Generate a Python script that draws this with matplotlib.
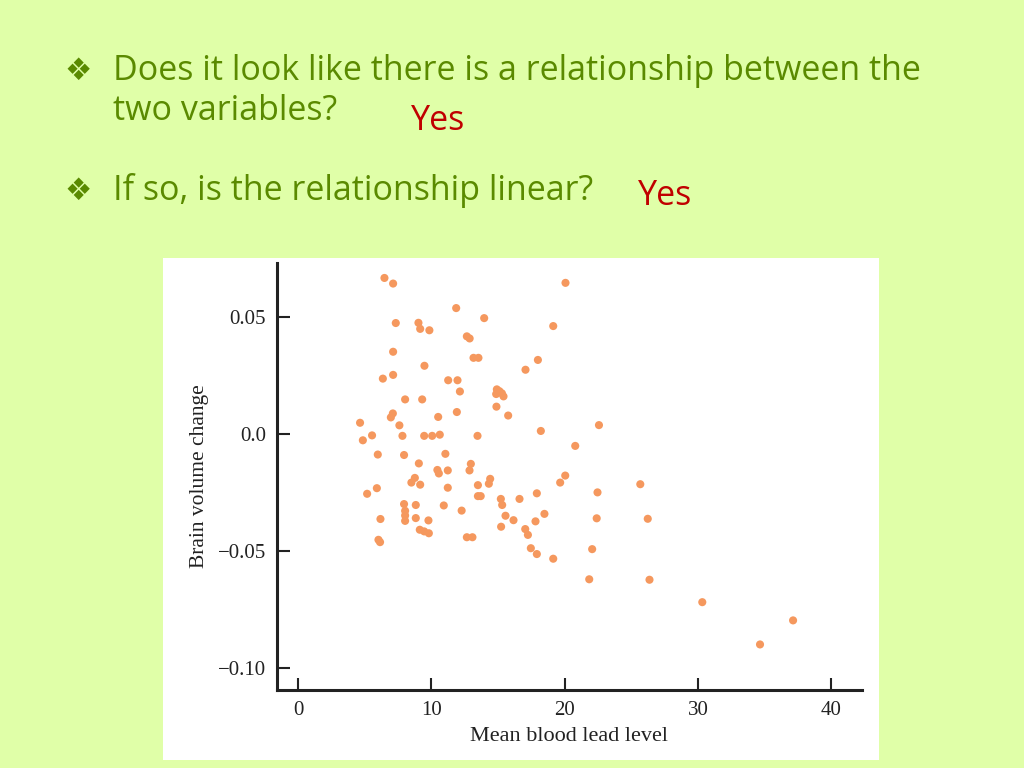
import matplotlib
matplotlib.use("Agg")
import matplotlib.pyplot as plt
from matplotlib.patches import Rectangle

# mean blood lead level vs brain volume change
lead = [6.48, 7.13, 11.86, 7.33, 9.03, 9.16, 9.85, 12.66, 12.87, 7.13,
        13.16, 13.53, 9.48, 6.36, 7.13, 11.26, 11.96, 12.14, 8.03, 9.31,
        11.91, 7.11, 6.96, 10.51, 7.60, 4.65, 4.86, 5.55, 7.83, 9.46,
        10.06, 10.63, 5.98, 7.95, 11.05, 9.06, 10.45, 10.56, 11.23, 8.76,
        8.50, 9.16, 5.91, 5.18, 11.23, 7.95, 8.83, 10.93, 12.27, 8.03,
        8.03, 8.03, 8.83, 9.78, 6.18, 9.13, 9.46, 9.81, 12.66, 13.08,
        6.03, 6.15, 20.06, 13.96, 19.14, 17.99, 17.06, 14.91, 15.11, 15.29,
        14.86, 15.41, 14.88, 15.76, 22.57, 18.21, 13.46, 20.79, 12.96, 12.86,
        14.41, 14.31, 13.49, 20.04, 19.66, 25.67, 13.49, 13.70, 17.91, 22.46,
        15.21, 15.31, 16.61, 15.56, 16.16, 17.81, 18.48, 22.40, 26.23, 15.23,
        17.04, 17.24, 17.46, 17.91, 22.06, 19.14, 21.84, 26.36, 30.32, 37.13,
        34.65]
brain = [0.0668, 0.0644, 0.0539, 0.0475, 0.0476, 0.0450, 0.0444, 0.0418, 0.0409, 0.0352,
         0.0326, 0.0326, 0.0292, 0.0237, 0.0253, 0.0230, 0.0230, 0.0182, 0.0148, 0.0148,
         0.0094, 0.0088, 0.0071, 0.0073, 0.0037, 0.0048, -0.0027, -0.0006, -0.0008, -0.0008,
         -0.0008, -0.0003, -0.0088, -0.0090, -0.0085, -0.0126, -0.0154, -0.0169, -0.0156, -0.0188,
         -0.0208, -0.0217, -0.0232, -0.0256, -0.0230, -0.0300, -0.0304, -0.0306, -0.0328, -0.0329,
         -0.0349, -0.0372, -0.0360, -0.0370, -0.0364, -0.0410, -0.0417, -0.0425, -0.0442, -0.0442,
         -0.0453, -0.0463, 0.0647, 0.0496, 0.0462, 0.0317, 0.0275, 0.0191, 0.0183, 0.0174,
         0.0171, 0.0161, 0.0117, 0.0079, 0.0038, 0.0013, -0.0008, -0.0051, -0.0128, -0.0156,
         -0.0192, -0.0213, -0.0219, -0.0178, -0.0208, -0.0215, -0.0266, -0.0266, -0.0254, -0.0250,
         -0.0278, -0.0304, -0.0278, -0.0350, -0.0369, -0.0374, -0.0342, -0.0361, -0.0363, -0.0397,
         -0.0407, -0.0432, -0.0489, -0.0514, -0.0493, -0.0534, -0.0622, -0.0624, -0.0720, -0.0798,
         -0.0901]

xticks = [0, 10, 20, 30, 40]
yticks = [-0.10, -0.05, 0.0, 0.05]
ytick_labels = ["\u22120.10", "\u22120.05", "0.0", "0.05"]

bg = "#e0ffa8"
green = "#5a8a00"
red = "#c00000"

fig = plt.figure(figsize=(10.24, 7.68), dpi=100)
fig.patch.set_facecolor(bg)

# white panel behind the plot
fig.patches.append(Rectangle((163 / 1024, 8 / 768), 716 / 1024, 502 / 768,
                             transform=fig.transFigure, facecolor="white",
                             edgecolor="none", zorder=-5))

fam = ["Open Sans", "DejaVu Sans"]
fs = 24.5
fig.text(64 / 1024, 1 - 71 / 768, "\u2756", color=green, fontsize=22, va="center", family="DejaVu Sans")
fig.text(113 / 1024, 1 - 71 / 768, "Does it look like there is a relationship between the",
         color=green, fontsize=fs, va="center", family=fam)
fig.text(113 / 1024, 1 - 111 / 768, "two variables?", color=green, fontsize=fs, va="center", family=fam)
fig.text(411 / 1024, 1 - 121 / 768, "Yes", color=red, fontsize=fs, va="center", family=fam)
fig.text(64 / 1024, 1 - 191 / 768, "\u2756", color=green, fontsize=22, va="center", family="DejaVu Sans")
fig.text(113 / 1024, 1 - 191 / 768, "If so, is the relationship linear?",
         color=green, fontsize=fs, va="center", family=fam)
fig.text(638 / 1024, 1 - 196 / 768, "Yes", color=red, fontsize=fs, va="center", family=fam)

ax = fig.add_axes([277 / 1024, 78 / 768, 585 / 1024, 427 / 768])
ax.set_zorder(2)
ax.patch.set_alpha(0)
ax.scatter(lead, brain, s=34, color="#f5985e", edgecolors="none", zorder=3)

ax.set_xlim(-1.58, 42.3)
ax.set_ylim(-0.1096, 0.0732)
ax.set_xticks(xticks)
ax.set_yticks(yticks)
ax.set_yticklabels(ytick_labels)

for s in ["top", "right"]:
    ax.spines[s].set_visible(False)
for s in ["left", "bottom"]:
    ax.spines[s].set_linewidth(2.2)
    ax.spines[s].set_color("#222222")

ax.tick_params(direction="in", length=9, width=1.5, color="#222222",
               labelsize=15, labelcolor="#222222", pad=8)
for lab in ax.get_xticklabels() + ax.get_yticklabels():
    lab.set_family("Liberation Serif")

ax.set_xlabel("Mean blood lead level", family="Liberation Serif", fontsize=16,
              color="#222222", labelpad=5)
ax.set_ylabel("Brain volume change", family="Liberation Serif", fontsize=15.5,
              color="#222222", labelpad=6)

fig.savefig("out.png", dpi=100, facecolor=bg)
